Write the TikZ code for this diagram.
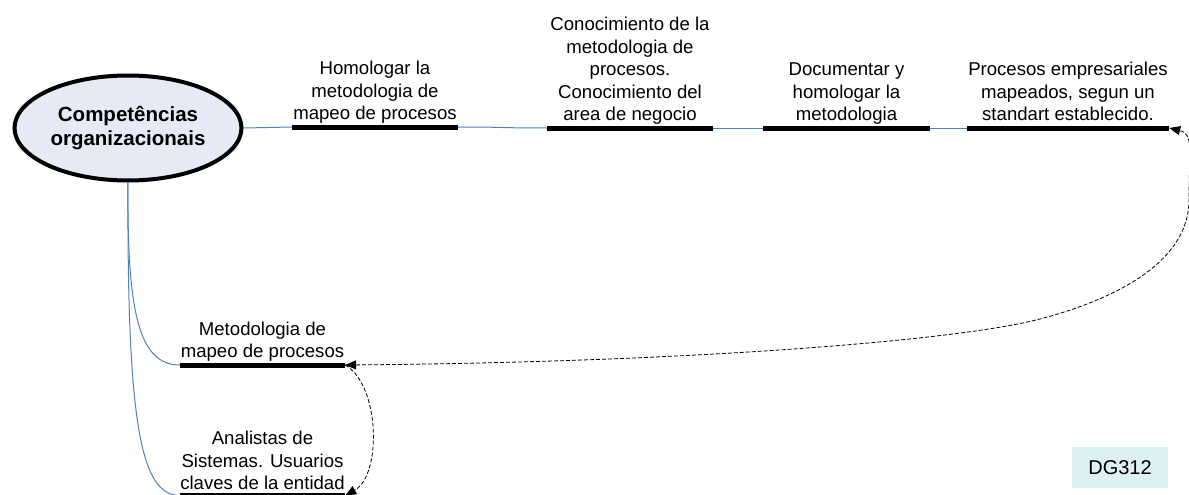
\documentclass[tikz,border=0pt]{standalone}
\usepackage{fontspec}
\setmainfont{Liberation Sans}
\usetikzlibrary{arrows.meta,shapes.geometric}
\definecolor{linkblue}{HTML}{4F81BD}
\definecolor{ellfill}{HTML}{E6EAF6}
\definecolor{tagfill}{HTML}{DDF0F4}
\tikzset{
  bar/.style={fill=black, draw=none, inner sep=0pt, minimum height=5pt},
  lbl/.style={align=center, inner sep=0pt, anchor=south, yshift=-2.5pt,
    font=\fontsize{18.6}{22.6}\selectfont, execute at end node=\strut},
  link/.style={draw=linkblue, line width=1pt},
  rel/.style={draw=black, line width=0.8pt, dash pattern=on 4pt off 2pt},
  tip/.tip={Triangle[length=11pt,width=9pt]},
  root/.style={ellipse, draw=black, line width=4pt, fill=ellfill,
    minimum width=227pt, minimum height=105pt, inner sep=0pt, align=center,
    font=\fontsize{20.5}{23.5}\selectfont\bfseries},
  tag/.style={fill=tagfill, inner sep=0pt, minimum width=96pt, minimum height=41pt,
    font=\fontsize{20}{24}\selectfont}
}
\begin{document}
\begin{tikzpicture}[x=1pt,y=-1pt]
\useasboundingbox (0,0) rectangle (1189,495);

\node[root] (root) at (128,128) {Competências\\organizacionais};

\node[bar, minimum width=166pt] (b1) at (375,127) {};
\node[bar, minimum width=166pt] (b2) at (630,128) {};
\node[bar, minimum width=167pt] (b3) at (846.5,128) {};
\node[bar, minimum width=202pt] (b4) at (1068,128) {};
\node[bar, minimum width=165pt] (b5) at (262.5,365) {};
\node[bar, minimum width=165pt] (b6) at (262.5,495.5) {};

\node[lbl] (l1) at (b1.north) {Homologar la\\metodologia de\\mapeo de procesos};
\node[lbl] (l2) at (b2.north) {Conocimiento de la\\metodologia de\\procesos.\\Conocimiento del\\area de negocio};
\node[lbl] (l3) at (b3.north) {Documentar y\\homologar la\\metodologia};
\node[lbl] (l4) at (b4.north) {Procesos empresariales\\mapeados, segun un\\standart establecido.};
\node[lbl] (l5) at (b5.north) {Metodologia de\\mapeo de procesos};
\node[lbl, yshift=-1.5pt] (l6) at (b6.north) {Analistas de\\Sistemas. Usuarios\\claves de la entidad};

\node[tag] (tag) at (1120,467.5) {DG312};

% blue links
\draw[link] (root.east) -- (b1.west);
\draw[link] (b1.east) .. controls +(50,0) and +(-50,0) .. (b2.west);
\draw[link] (b2.east) -- (b3.west);
\draw[link] (b3.east) -- (b4.west);
\draw[link] (root.south) .. controls (127,310) and (138,365) .. (b5.west);
\draw[link] (root.south) .. controls (127,420) and (140,495.5) .. (b6.west);

% dashed relationships
\draw[rel, {tip}-{tip}] (b5.east) .. controls (700,362) and (960,340) .. (1040,319)
  .. controls (1120,298) and (1189,260) .. (1189,200)
  .. controls (1189,150) and (1194,134) .. (b4.east);
\draw[rel, -{tip}] (b5.east) .. controls (380,385) and (382,475) .. (b6.east);
\end{tikzpicture}
\end{document}
